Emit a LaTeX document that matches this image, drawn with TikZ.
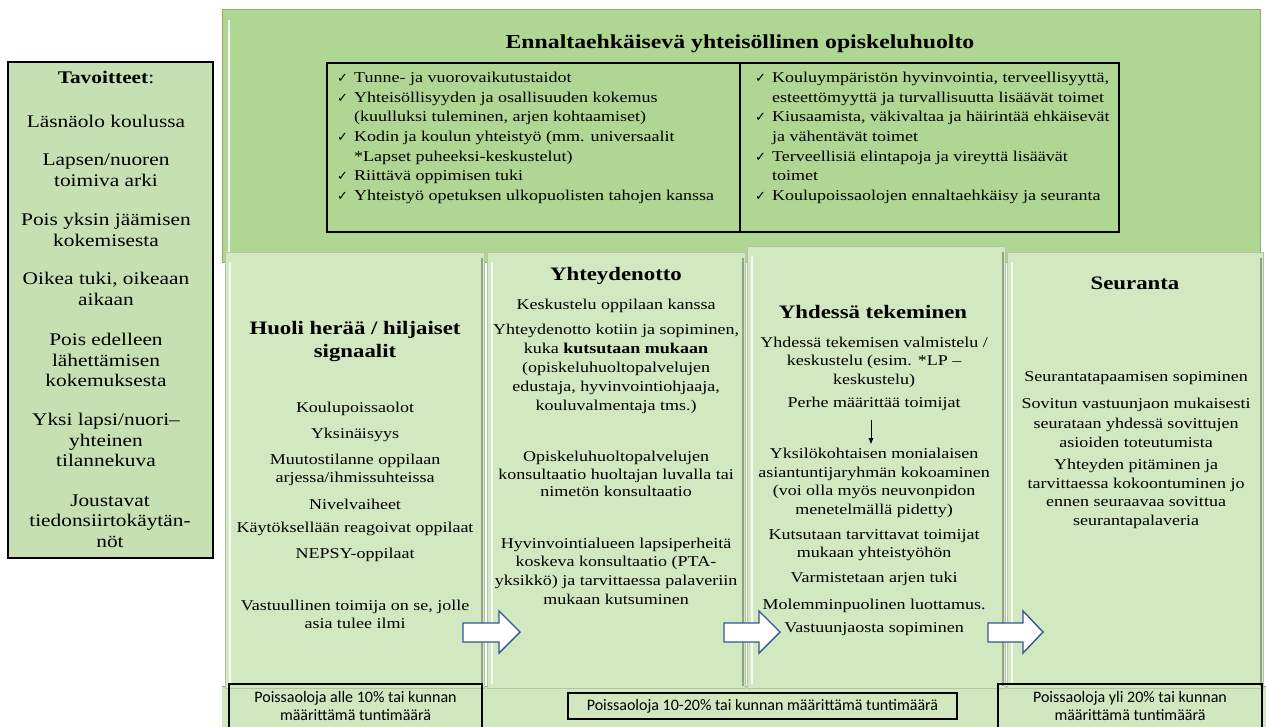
\documentclass[tikz,border=0pt]{standalone}
\usepackage{fontspec}
\setmainfont{Liberation Serif}[FakeStretch=1.2]
\newfontfamily\calib{Carlito}
\newfontfamily\symf{DejaVu Sans}
\usetikzlibrary{arrows.meta}
\definecolor{topg}{RGB}{176,214,148}
\definecolor{colg}{RGB}{209,232,193}
\definecolor{leftg}{RGB}{198,224,180}
\definecolor{bandg}{RGB}{208,231,192}
\definecolor{arrb}{RGB}{52,86,150}
\newcommand{\ck}{\makebox[17pt][l]{\symf\fontsize{13}{13}\selectfont ✓}}
\newcommand{\ci}{\hspace*{17pt}}
\tikzset{
 body/.style={inner sep=0pt, align=center, font=\fontsize{15}{18.5}\selectfont},
 colhead/.style={inner sep=0pt, align=center, font=\bfseries\fontsize{19}{23}\selectfont},
 goal/.style={inner sep=0pt, align=center, font=\fontsize{17.8}{20.5}\selectfont},
 lst/.style={inner sep=0pt, align=left, font=\fontsize{15}{19.6}\selectfont},
 pct/.style={draw=black, line width=1.2pt, inner sep=0pt, align=center, font=\calib\fontsize{16}{18}\selectfont},
 colbox/.style={fill=colg, draw=colg!85!black, line width=0.6pt},
 blockarrow/.style={fill=white, draw=arrb, line width=1.4pt, line join=miter},
 hl/.style={white, line width=2.5pt, opacity=0.85},
 sh/.style={draw=colg!70!black, line width=1.2pt},
}
\begin{document}
\begin{tikzpicture}[x=1pt,y=-1pt]
\useasboundingbox (0,0) rectangle (1266,727);
\clip (0,0) rectangle (1266,727);
\fill[white] (0,0) rectangle (1266,727);

% left goals panel
\draw[fill=leftg, draw=black, line width=1.2pt] (8,62) rectangle (213,558);
\node[goal] (g0) at (106,77) {\textbf{Tavoitteet}:};
\node[goal] (g1) at (106,121) {Läsnäolo koulussa};
\node[goal] (g2) at (106,170) {Lapsen/nuoren\\toimiva arki};
\node[goal] (g3) at (106,230) {Pois yksin jäämisen\\kokemisesta};
\node[goal] (g4) at (106,289) {Oikea tuki, oikeaan\\aikaan};
\node[goal] (g5) at (106,360) {Pois edelleen\\lähettämisen\\kokemuksesta};
\node[goal] (g6) at (106,440) {Yksi lapsi/nuori–\\yhteinen\\tilannekuva};
\node[goal] (g7) at (110,521) {Joustavat\\tiedonsiirtokäytän-\\nöt};

% top preventive box
\draw[fill=topg, draw=topg!80!black, line width=0.8pt] (222,9) rectangle (1260,262);
\draw[hl] (229,20) -- (229,255);
\node[inner sep=0pt, font=\bfseries\fontsize{19.8}{24}\selectfont] (title) at (740,44) {Ennaltaehkäisevä yhteisöllinen opiskeluhuolto};
\draw[line width=1.2pt] (327,63) rectangle (1119,232);
\draw[line width=1.2pt] (740,63) -- (740,232);
\node[lst, anchor=west] (lista) at (337,138) {\ck Tunne- ja vuorovaikutustaidot\\
\ck Yhteisöllisyyden ja osallisuuden kokemus\\
\ci (kuulluksi tuleminen, arjen kohtaamiset)\\
\ck Kodin ja koulun yhteistyö (mm. universaalit\\
\ci *Lapset puheeksi-keskustelut)\\
\ck Riittävä oppimisen tuki\\
\ck Yhteistyö opetuksen ulkopuolisten tahojen kanssa};
\node[lst, anchor=west] (listb) at (755,138) {\ck Kouluympäristön hyvinvointia, terveellisyyttä,\\
\ci esteettömyyttä ja turvallisuutta lisäävät toimet\\
\ck Kiusaamista, väkivaltaa ja häirintää ehkäisevät\\
\ci ja vähentävät toimet\\
\ck Terveellisiä elintapoja ja vireyttä lisäävät\\
\ci toimet\\
\ck Koulupoissaolojen ennaltaehkäisy ja seuranta};

% bottom band
\fill[bandg] (222,686) rectangle (1266,727);
\draw[colg!70!black, line width=0.8pt] (222,686) -- (1266,686);

% columns
\draw[colbox] (225,252) rectangle (484,688);
\draw[colbox] (487,252) rectangle (745,688);
\draw[colbox] (747,246) rectangle (1005,688);
\draw[colbox] (1007,252) rectangle (1263,688);
\foreach \xa/\xb/\ya in {225/484/252, 487/745/252, 747/1005/246, 1007/1263/252}{
  \draw[hl] (\xa+5,\ya+10) -- (\xa+5,684);
  \draw[sh] (\xb-2,\ya+6) -- (\xb-2,686);
}

% column 1
\node[colhead] (h1) at (355,342) {Huoli herää / hiljaiset\\signaalit};
\node[body] (a1) at (355,409) {Koulupoissaolot};
\node[body] (a2) at (355,435) {Yksinäisyys};
\node[body, font=\fontsize{15}{18}\selectfont] (a3) at (355,470) {Muutostilanne oppilaan\\arjessa/ihmissuhteissa};
\node[body] (a4) at (355,504) {Nivelvaiheet};
\node[body] (a5) at (355,529) {Käytöksellään reagoivat oppilaat};
\node[body] (a6) at (355,555) {NEPSY-oppilaat};
\node[body, font=\fontsize{15}{18}\selectfont] (a7) at (355,614) {Vastuullinen toimija on se, jolle\\asia tulee ilmi};

% column 2
\node[colhead] (h2) at (616,276) {Yhteydenotto};
\node[body] (b1) at (616,306) {Keskustelu oppilaan kanssa};
\node[body, font=\fontsize{15}{19}\selectfont] (b2) at (616,369) {Yhteydenotto kotiin ja sopiminen,\\kuka \textbf{kutsutaan mukaan}\\(opiskeluhuoltopalvelujen\\edustaja, hyvinvointiohjaaja,\\kouluvalmentaja tms.)};
\node[body, font=\fontsize{15}{17.5}\selectfont] (b3) at (616,474) {Opiskeluhuoltopalvelujen\\konsultaatio huoltajan luvalla tai\\nimetön konsultaatio};
\node[body, font=\fontsize{15}{18.7}\selectfont] (b4) at (616,571) {Hyvinvointialueen lapsiperheitä\\koskeva konsultaatio (PTA-\\yksikkö) ja tarvittaessa palaveriin\\mukaan kutsuminen};

% column 3
\node[colhead] (h3) at (873,312) {Yhdessä tekeminen};
\node[body] (d1) at (874,362) {Yhdessä tekemisen valmistelu /\\keskustelu (esim. *LP –\\keskustelu)};
\node[body] (d2) at (874,404) {Perhe määrittää toimijat};
\node[body] (d3) at (874,483) {Yksilökohtaisen monialaisen\\asiantuntijaryhmän kokoaminen\\(voi olla myös neuvonpidon\\menetelmällä pidetty)};
\node[body] (d4) at (874,545) {Kutsutaan tarvittavat toimijat\\mukaan yhteistyöhön};
\node[body] (d5) at (874,579) {Varmistetaan arjen tuki};
\node[body] (d6) at (874,606) {Molemminpuolinen luottamus.};
\node[body] (d7) at (874,629) {Vastuunjaosta sopiminen};
\draw[-{Latex[length=6pt,width=5pt]}, line width=0.7pt, shorten <=9pt, shorten >=4pt] ([xshift=-3pt]d2.south) -- ([xshift=-3pt]d3.north);

% column 4
\node[colhead] (h4) at (1135,283) {Seuranta};
\node[body] (e1) at (1136,378) {Seurantatapaamisen sopiminen};
\node[body, font=\fontsize{15}{19.5}\selectfont] (e2) at (1136,423) {Sovitun vastuunjaon mukaisesti\\seurataan yhdessä sovittujen\\asioiden toteutumista};
\node[body] (e3) at (1136,494) {Yhteyden pitäminen ja\\tarvittaessa kokoontuminen jo\\ennen seuraavaa sovittua\\seurantapalaveria};

% block arrows
\draw[blockarrow] (463,623) -- (499,623) -- (499,611) -- (520,632) -- (499,653) -- (499,642) -- (463,642) -- cycle;
\draw[blockarrow] (724,623) -- (759,623) -- (759,611) -- (780,632) -- (759,653) -- (759,642) -- (724,642) -- cycle;
\draw[blockarrow] (988,623) -- (1023,623) -- (1023,611) -- (1043,632) -- (1023,653) -- (1023,642) -- (988,642) -- cycle;

% absence boxes
\node[pct, minimum width=253pt, minimum height=46pt] (p1) at (355.5,707) {};
\node[inner sep=0pt, align=center, font=\calib\fontsize{16}{18}\selectfont] (p1t) at (355.5,706) {Poissaoloja alle 10\% tai kunnan\\määrittämä tuntimäärä};
\node[pct, minimum width=389pt, minimum height=26pt] (p2) at (762.5,706) {Poissaoloja 10-20\% tai kunnan määrittämä tuntimäärä};
\node[pct, minimum width=264pt, minimum height=46pt] (p3) at (1130,707) {};
\node[inner sep=0pt, align=center, font=\calib\fontsize{16}{18}\selectfont] (p3t) at (1130,706) {Poissaoloja yli 20\% tai kunnan\\määrittämä tuntimäärä};
\end{tikzpicture}
\end{document}
